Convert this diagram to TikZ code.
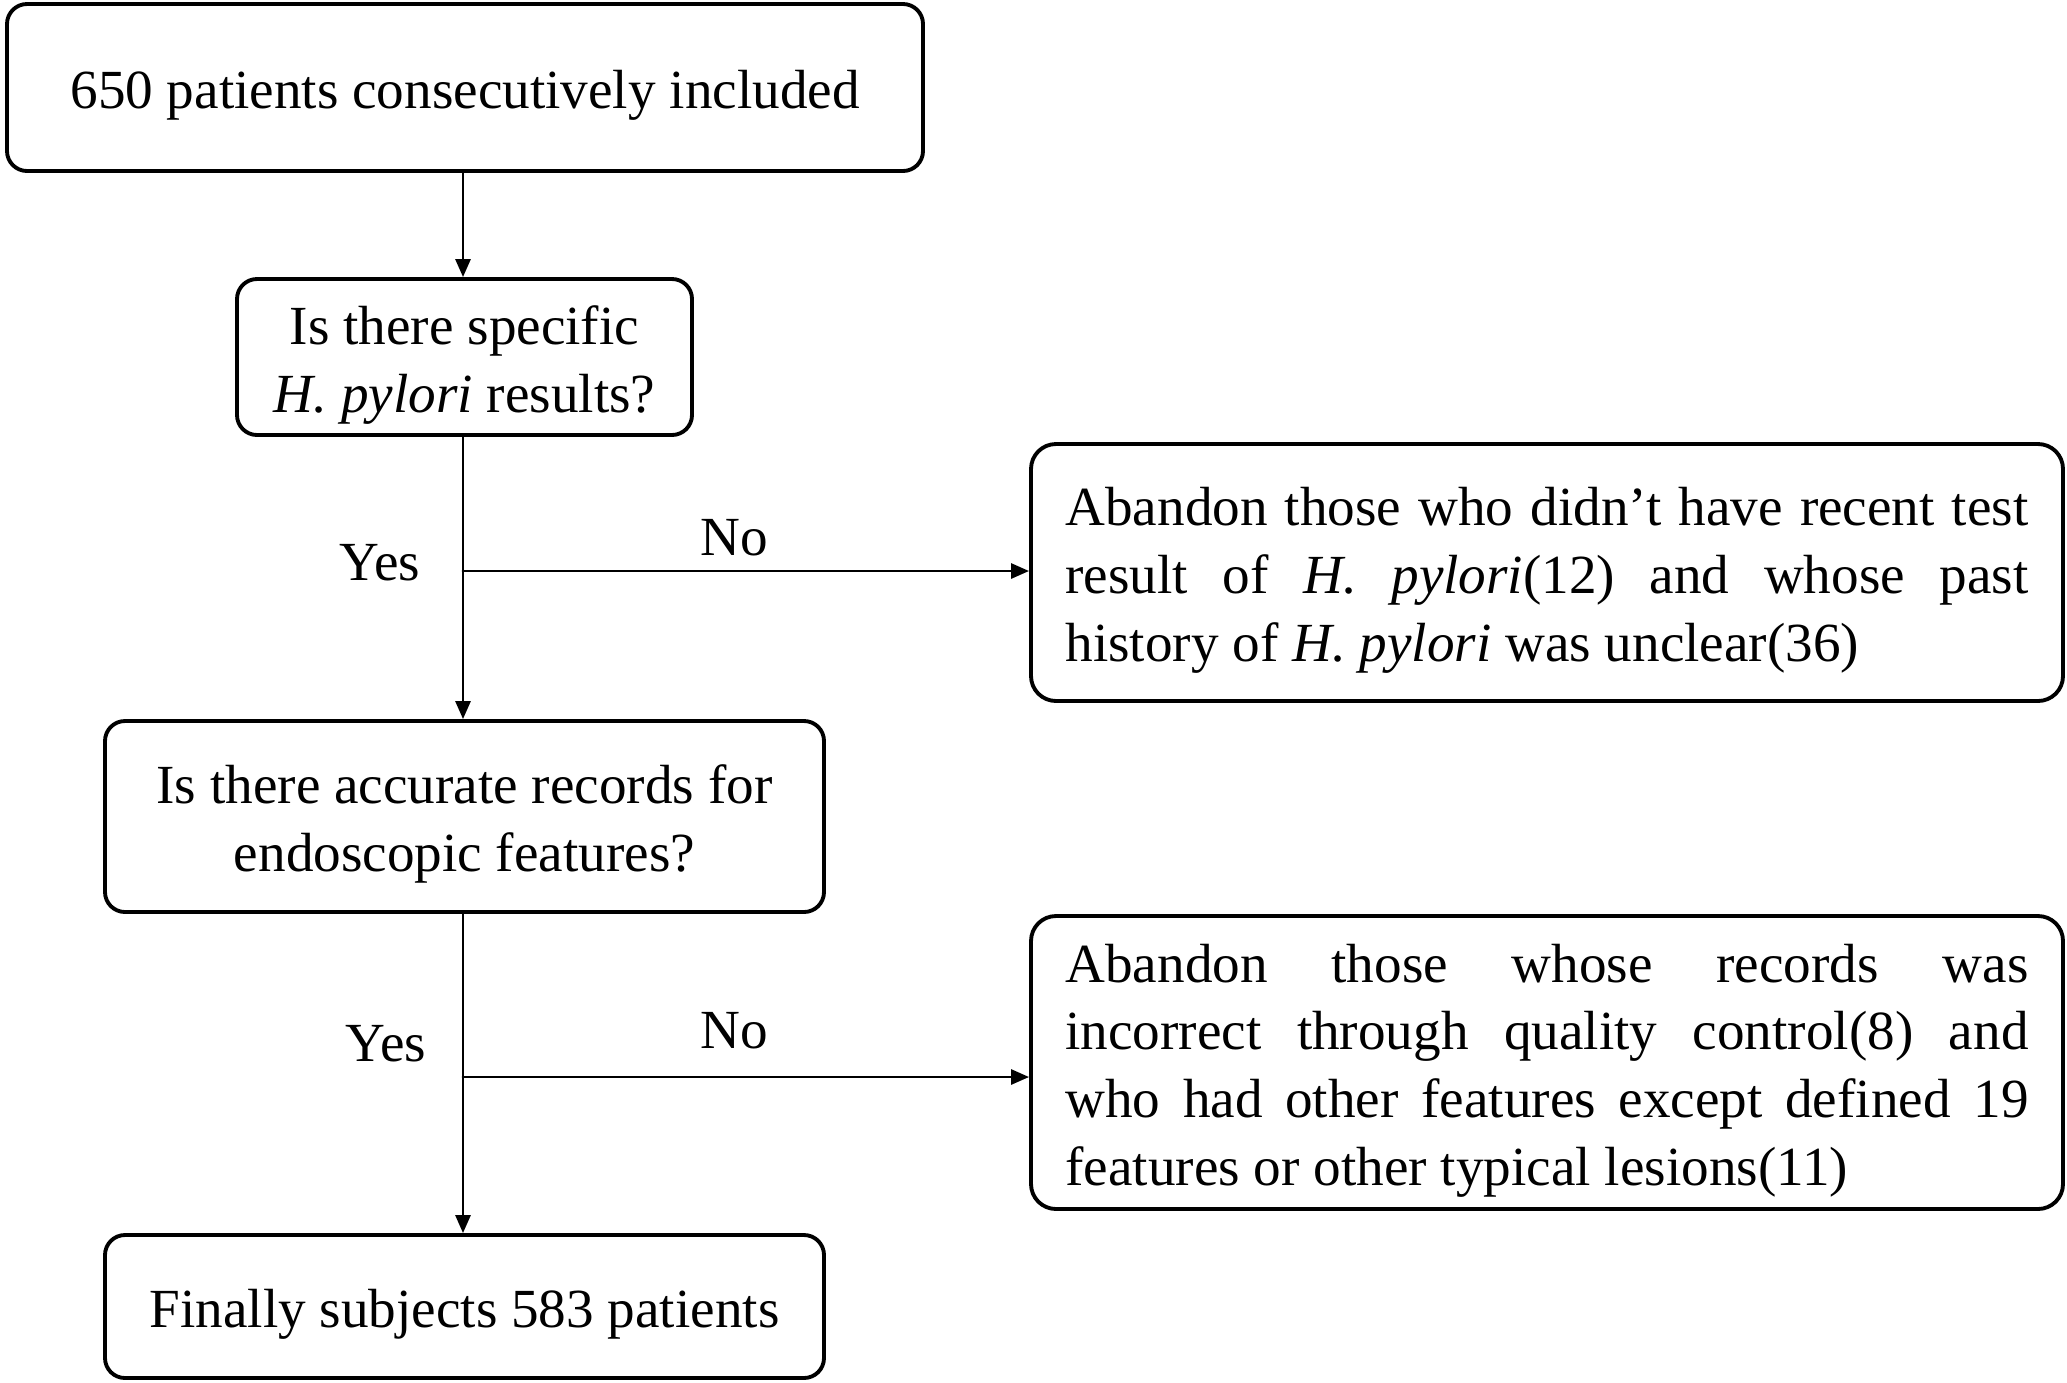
\documentclass[tikz,border=0pt]{standalone}
\usepackage{fontspec}
\setmainfont{Liberation Serif}
\usepackage{tikz}
\usetikzlibrary{arrows.meta, calc, positioning}
\newcommand{\tallstrut}{\rule{0pt}{15.5pt}}

\begin{document}
\begin{tikzpicture}[line cap=round, line join=round, >={Triangle[length=1.8mm,width=1.5mm]},
    every node/.style={font=\fontsize{15.7}{19.3}\selectfont},
    flowbox/.style={draw, rounded corners=0.2cm, line width=1.1pt, align=center, inner sep=0pt},
    dropbox/.style={draw, rounded corners=0.25cm, line width=1.1pt, align=justify, text width=9.63cm, inner xsep=0.345cm, inner ysep=0pt},
    link/.style={->, line width=0.8pt}]
    \useasboundingbox (0,0) rectangle (20.67,-13.82);

    % main column
    \node[flowbox, minimum width=9.16cm, minimum height=1.67cm] (start) at (4.65,-0.875) {\tallstrut650 patients consecutively included};
    \node[flowbox, minimum width=4.55cm, minimum height=1.56cm] (hpq) at (4.645,-3.57) {\tallstrut Is there specific\\\textit{H. pylori} results?};
    \node[flowbox, minimum width=7.19cm, minimum height=1.91cm] (endq) at (4.645,-8.165) {\tallstrut Is there accurate records for\\endoscopic features?};
    \node[flowbox, minimum width=7.19cm, minimum height=1.43cm] (final) at (4.645,-13.065) {\tallstrut Finally subjects 583 patients};

    % excluded boxes
    \node[dropbox, minimum height=2.57cm] (drop1) at (15.47,-5.725) {\tallstrut Abandon those who didn't have recent test\linebreak result of \textit{H. pylori}(12) and whose past\linebreak history of \textit{H. pylori} was unclear(36)};
    \node[dropbox, minimum height=2.93cm] (drop2) at (15.47,-10.625) {\tallstrut Abandon those whose records was\linebreak incorrect through quality control(8) and\linebreak who had other features except defined 19\linebreak features or other typical lesions(11)};

    \coordinate (br1) at (4.63,-5.71);
    \coordinate (br2) at (4.63,-10.77);

    \draw[link] (start.south -| br1) -- (hpq.north -| br1);
    \draw[link] (hpq.south -| br1) -- (endq.north -| br1);
    \draw[link] (endq.south -| br2) -- (final.north -| br2);
    \draw[link] (br1) -- (br1 -| drop1.west);
    \draw[link] (br2) -- (br2 -| drop2.west);

    \node (yes1) at (3.80,-5.63) {Yes};
    \node (no1) at (7.34,-5.38) {No};
    \node (yes2) at (3.86,-10.44) {Yes};
    \node (no2) at (7.34,-10.31) {No};
\end{tikzpicture}
\end{document}
